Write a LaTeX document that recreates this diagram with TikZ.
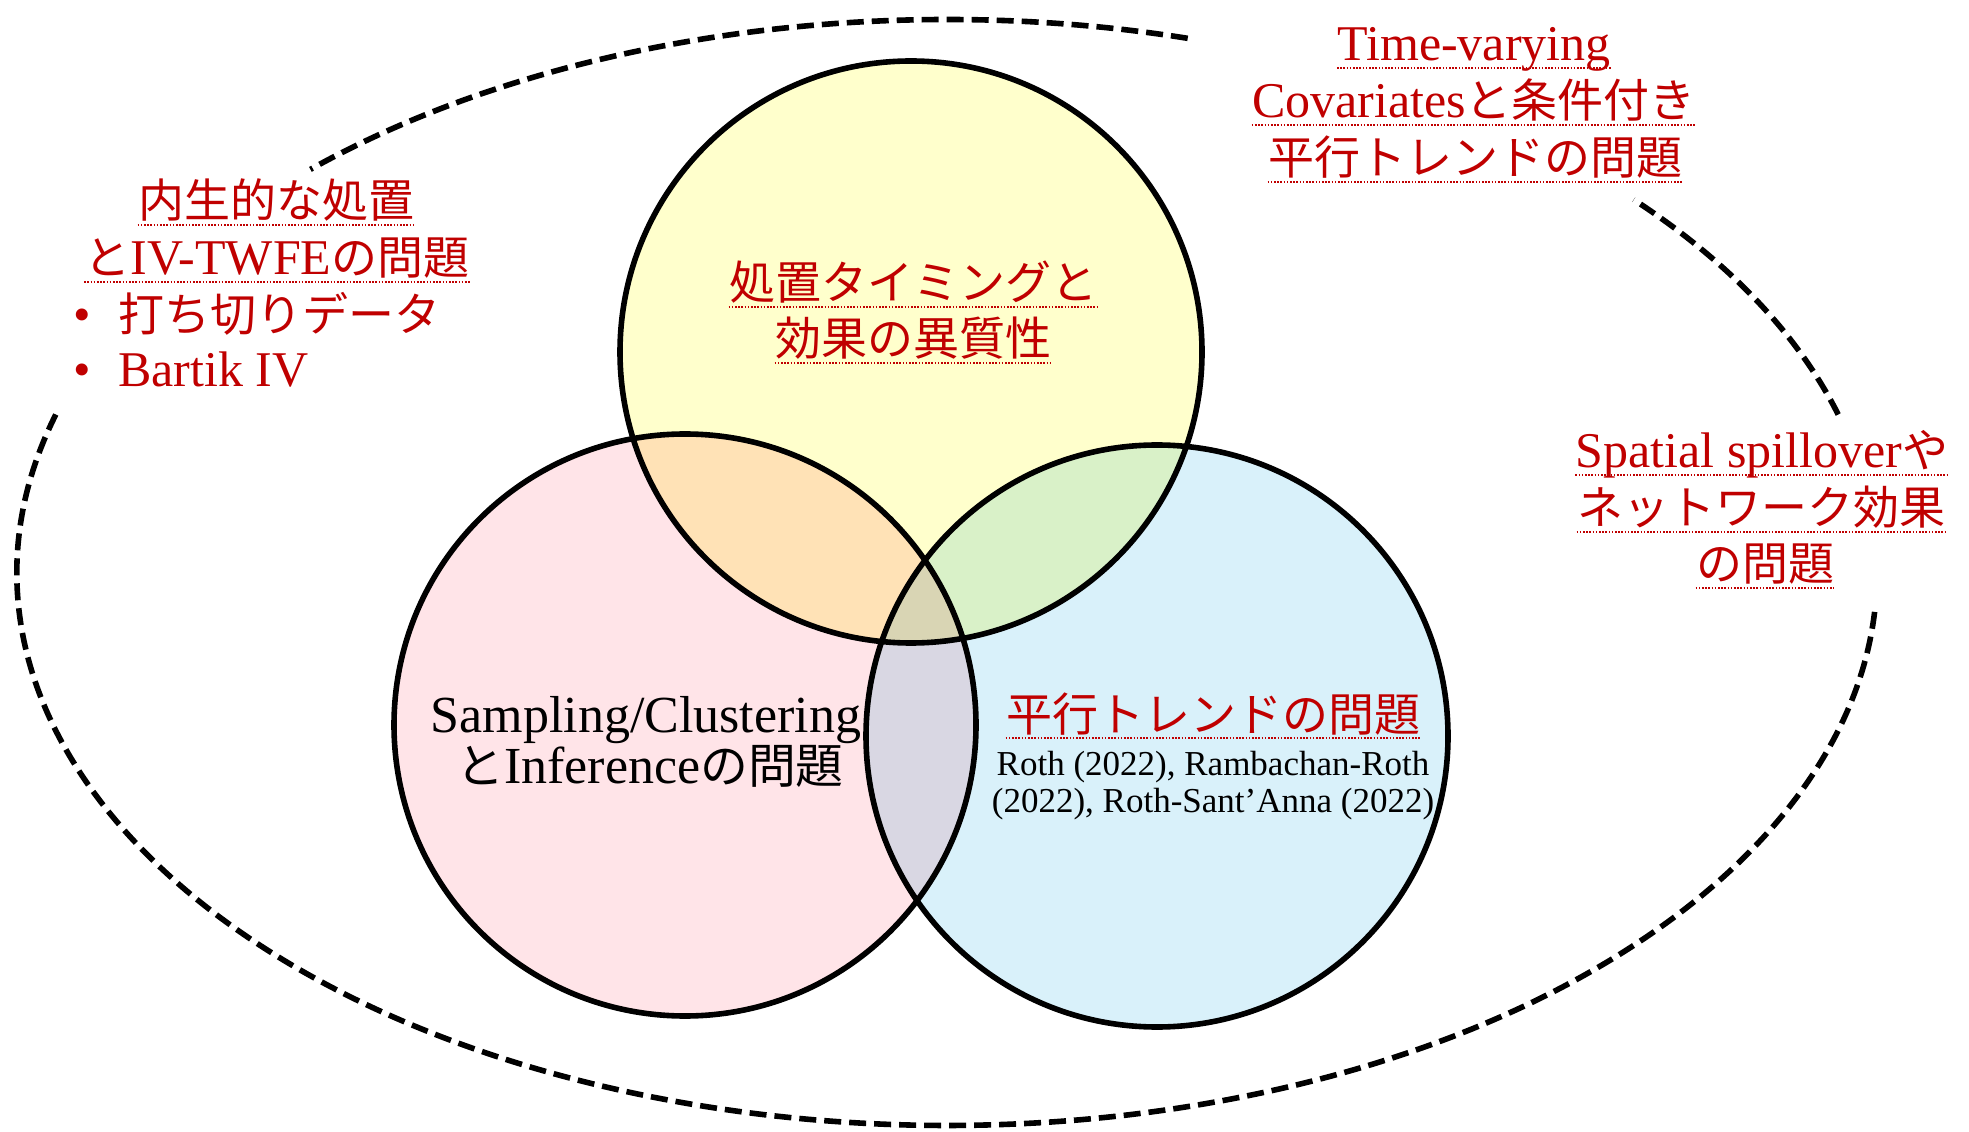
\documentclass[tikz,border=0pt]{standalone}
\usepackage{fontspec}
\setmainfont{Liberation Serif}
\newfontfamily\jp[Scale=0.92]{Noto Sans CJK JP}
\definecolor{jred}{RGB}{192,0,0}
\definecolor{cY}{RGB}{255,255,204}
\definecolor{cP}{RGB}{255,228,232}
\definecolor{cB}{RGB}{217,241,250}
\definecolor{cYP}{RGB}{255,226,182}
\definecolor{cYB}{RGB}{217,241,200}
\definecolor{cPB}{RGB}{217,215,227}
\definecolor{cYPB}{RGB}{217,213,180}
\newcommand\ulnode[1]{\draw[uline] ([yshift=-3.5pt]#1.base west) -- ([yshift=-3.5pt]#1.base east);}
\begin{document}
\begin{tikzpicture}[x=0.5pt,y=0.5pt,
  redlab/.style={inner sep=0pt, anchor=base, text=jred, font=\fontsize{25pt}{30pt}\selectfont},
  blklab/.style={inner sep=0pt, anchor=base, text=black, font=\fontsize{26pt}{31pt}\selectfont},
  smalllab/.style={inner sep=0pt, anchor=base, text=black, font=\fontsize{17.5pt}{21pt}\selectfont},
  uline/.style={draw=jred, line width=0.8pt, dash pattern=on 0.8pt off 0.8pt},
  venn/.style={circle, draw=black, line width=2.8pt, minimum size=291pt, inner sep=0pt},
  outerell/.style={draw=black, line width=2.8pt, dash pattern=on 8.5pt off 4pt},
]
\useasboundingbox (0,0) rectangle (1969,1131);
\fill[white] (0,0) rectangle (1969,1131);

% centres
\coordinate (E) at (947,558.5);
\coordinate (Yc) at (911,779);
\coordinate (Pc) at (685,406);
\coordinate (Bc) at (1157,395);

% outer dashed ellipse (broken where labels sit)
\draw[outerell] (E) ++(75:930 and 553) arc[start angle=75, end angle=133.2, x radius=930, y radius=553];
\draw[outerell] (E) ++(163.4:930 and 553) arc[start angle=163.4, end angle=356.2, x radius=930, y radius=553];
\draw[outerell] (E) ++(16.6:930 and 553) arc[start angle=16.6, end angle=42.4, x radius=930, y radius=553];

% fills
\fill[cP] (Pc) circle[radius=291];
\fill[cY] (Yc) circle[radius=291];
\fill[cB] (Bc) circle[radius=291];
\begin{scope}
  \clip (Yc) circle[radius=291];
  \fill[cYP] (Pc) circle[radius=291];
  \fill[cYB] (Bc) circle[radius=291];
\end{scope}
\begin{scope}
  \clip (Pc) circle[radius=291];
  \fill[cPB] (Bc) circle[radius=291];
\end{scope}
\begin{scope}
  \clip (Yc) circle[radius=291];
  \clip (Pc) circle[radius=291];
  \fill[cYPB] (Bc) circle[radius=291];
\end{scope}

% circle outlines
\node[venn] (Ycirc) at (Yc) {};
\node[venn] (Pcirc) at (Pc) {};
\node[venn] (Bcirc) at (Bc) {};

% yellow circle label
\node[redlab] (y1) at (913,831) {{\jp 処置タイミングと}};
\node[redlab] (y2) at (913,775) {{\jp 効果の異質性}};
\ulnode{y1}\ulnode{y2}

% pink circle label
\node[blklab] (p1) at (646,399) {Sampling/Clustering};
\node[blklab] (p2) at (650,348) {{\jp と}Inference{\jp の問題}};

% blue circle label
\node[redlab] (b1) at (1213,400) {{\jp 平行トレンドの問題}};
\ulnode{b1}
\node[smalllab] (b2) at (1213,356) {Roth (2022), Rambachan-Roth};
\node[smalllab] (b3) at (1213,319) {(2022), Roth-Sant’Anna (2022)};

% left label
\node[redlab] (l1) at (276,913) {{\jp 内生的な処置}};
\node[redlab] (l2) at (277,856) {{\jp と}IV-TWFE{\jp の問題}};
\ulnode{l1}\ulnode{l2}
\node[redlab] (l3b) at (82,799) {•};
\node[redlab, anchor=base west] (l3) at (118,799) {{\jp 打ち切りデータ}};
\node[redlab] (l4b) at (82,744) {•};
\node[redlab, anchor=base west] (l4) at (118,744) {Bartik IV};

% top-right label
\node[redlab] (t1) at (1474,1070) {Time-varying};
\node[redlab] (t2) at (1474,1013) {Covariates{\jp と条件付き}};
\node[redlab] (t3) at (1475,956) {{\jp 平行トレンドの問題}};
\ulnode{t1}\ulnode{t2}\ulnode{t3}

% right label
\node[redlab] (r1) at (1762,663) {Spatial spillover{\jp や}};
\node[redlab] (r2) at (1761,606) {{\jp ネットワーク効果}};
\node[redlab] (r3) at (1765,550) {{\jp の問題}};
\ulnode{r1}\ulnode{r2}\ulnode{r3}
\end{tikzpicture}
\end{document}
